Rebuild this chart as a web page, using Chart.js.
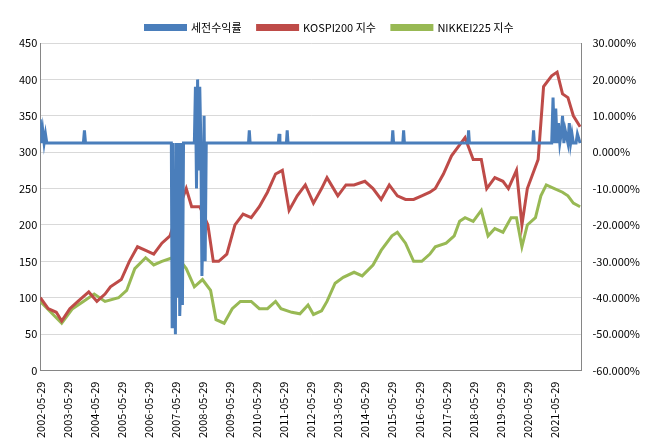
<!DOCTYPE html>
<html>
<head>
<meta charset="utf-8">
<script src="https://cdn.jsdelivr.net/npm/chart.js@4"></script>
<style>
  body { margin: 0; background: #fff; }
  #wrap { width: 649px; height: 441px; }
</style>
</head>
<body>
<div id="wrap"><canvas id="c"></canvas></div>
<script>
// tick labels (x axis)
const tickYears = [2002,2003,2004,2005,2006,2007,2008,2009,2010,2011,2012,2013,2014,2015,2016,2017,2018,2019,2020,2021];

// KOSPI200 (left axis)
const kospiX = [2002.41,2002.7,2003.0,2003.2,2003.5,2003.8,2004.2,2004.5,2004.8,2005.0,2005.4,2005.7,2006.0,2006.3,2006.6,2006.9,2007.2,2007.5,2007.8,2008.0,2008.3,2008.6,2008.8,2009.0,2009.3,2009.6,2009.9,2010.2,2010.5,2010.8,2011.1,2011.35,2011.6,2011.9,2012.2,2012.5,2012.8,2013.0,2013.4,2013.7,2014.0,2014.4,2014.7,2015.0,2015.3,2015.6,2015.9,2016.2,2016.5,2016.8,2017.0,2017.3,2017.6,2017.9,2018.1,2018.4,2018.7,2018.9,2019.2,2019.5,2019.7,2020.0,2020.2,2020.4,2020.6,2020.8,2021.0,2021.3,2021.5,2021.7,2021.9,2022.1,2022.35];
const kospiY = [100,85,80,68,85,95,108,95,105,115,125,150,170,165,160,175,185,220,250,225,225,200,150,150,160,200,215,210,225,245,270,275,220,240,255,230,250,265,240,255,255,260,250,235,255,240,235,235,240,245,250,270,295,310,320,290,290,250,265,260,250,275,200,250,270,290,390,405,410,380,375,350,335];

// NIKKEI225 (left axis)
const nikkeiX = [2002.41,2002.8,2003.2,2003.6,2004.0,2004.4,2004.8,2005.3,2005.6,2005.9,2006.3,2006.6,2006.9,2007.3,2007.6,2007.8,2008.1,2008.4,2008.7,2008.9,2009.2,2009.5,2009.8,2010.2,2010.5,2010.8,2011.1,2011.3,2011.7,2012.0,2012.3,2012.5,2012.8,2013.0,2013.3,2013.6,2014.0,2014.3,2014.7,2015.0,2015.4,2015.6,2015.9,2016.2,2016.5,2016.8,2017.0,2017.4,2017.7,2017.9,2018.1,2018.4,2018.7,2018.95,2019.2,2019.5,2019.8,2020.0,2020.2,2020.4,2020.7,2020.9,2021.1,2021.4,2021.7,2021.9,2022.1,2022.35];
const nikkeiY = [95,80,65,85,95,105,95,100,110,140,155,145,150,155,150,140,115,125,110,70,65,85,95,95,85,85,95,85,80,78,90,77,82,95,120,128,135,130,145,165,185,190,175,150,150,160,170,175,185,205,210,205,220,185,195,190,210,210,170,200,210,240,255,250,245,240,230,225];

// 세전수익률 (right axis, %)
const retX = [2002.41,2002.45,2002.5,2002.55,2002.6,2002.65,2004.0,2004.04,2004.08,2007.25,2007.28,2007.31,2007.34,2007.37,2007.4,2007.43,2007.46,2007.5,2007.53,2007.56,2007.6,2007.63,2007.66,2007.7,2008.1,2008.14,2008.18,2008.22,2008.26,2008.3,2008.34,2008.38,2008.42,2008.46,2008.5,2008.54,2010.1,2010.13,2010.16,2011.2,2011.23,2011.26,2011.5,2011.53,2011.56,2015.4,2015.43,2015.46,2015.8,2015.83,2015.86,2018.2,2018.23,2018.26,2020.6,2020.63,2020.66,2021.3,2021.35,2021.4,2021.45,2021.5,2021.55,2021.6,2021.65,2021.7,2021.75,2021.8,2021.9,2021.95,2022.0,2022.05,2022.1,2022.2,2022.25,2022.35];
const retY = [9,2.5,6,2.5,5,2.5,2.5,6,2.5,2.5,-48,2.5,-45,-30,-50,2.5,-40,-25,2.5,-45,-35,2.5,-42,2.5,2.5,18,-10,20,-5,18,2.5,-34,-20,10,-30,2.5,2.5,6,2.5,2.5,5,2.5,2.5,6,2.5,2.5,6,2.5,2.5,6,2.5,2.5,6,2.5,2.5,6,2.5,2.5,15,2.5,12,2.5,8,2.5,5,10,2.5,6,2.5,8,2.5,5,2.5,2.5,5,2.5];

const toPts = (xs, ys) => xs.map((x, i) => ({ x: x, y: ys[i] }));
const font = { family: "'Malgun Gothic','Noto Sans CJK KR',sans-serif", size: 11 };

new Chart(document.getElementById("c"), {
  type: "line",
  data: {
    datasets: [
      { label: "세전수익률", data: toPts(retX, retY), yAxisID: "y1", borderColor: "#4a7ebb", backgroundColor: "#4a7ebb", borderWidth: 3, pointRadius: 0, tension: 0 },
      { label: "KOSPI200 지수", data: toPts(kospiX, kospiY), yAxisID: "y", borderColor: "#be4b48", backgroundColor: "#be4b48", borderWidth: 3, pointRadius: 0, tension: 0 },
      { label: "NIKKEI225 지수", data: toPts(nikkeiX, nikkeiY), yAxisID: "y", borderColor: "#98b954", backgroundColor: "#98b954", borderWidth: 3, pointRadius: 0, tension: 0 }
    ]
  },
  options: {
    responsive: true, maintainAspectRatio: false, animation: false,
    layout: { padding: { left: 16, right: 6, top: 6, bottom: 0 } },
    plugins: {
      legend: { position: "top", labels: { boxWidth: 40, boxHeight: 4, color: "#000", font: font, padding: 16 } },
      tooltip: { enabled: false }
    },
    scales: {
      x: {
        type: "linear", min: 2002.41, max: 2022.4,
        afterBuildTicks: (ax) => { ax.ticks = tickYears.map(y => ({ value: y + 0.41 })); },
        ticks: { autoSkip: false, maxRotation: 90, minRotation: 90, color: "#000", font: font,
          callback: (v) => Math.round(v - 0.41) + "-05-29" },
        grid: { display: false, drawTicks: true },
        border: { color: "#868686" }
      },
      y: {
        position: "left", min: 0, max: 450,
        ticks: { stepSize: 50, color: "#000", font: font },
        grid: { color: "#d9d9d9", drawTicks: false },
        border: { color: "#868686" }
      },
      y1: {
        position: "right", min: -60, max: 30,
        ticks: { stepSize: 10, color: "#000", font: font, callback: (v) => v.toFixed(3) + "%" },
        grid: { display: false },
        border: { color: "#868686" }
      }
    }
  }
});
</script>
</body>
</html>
